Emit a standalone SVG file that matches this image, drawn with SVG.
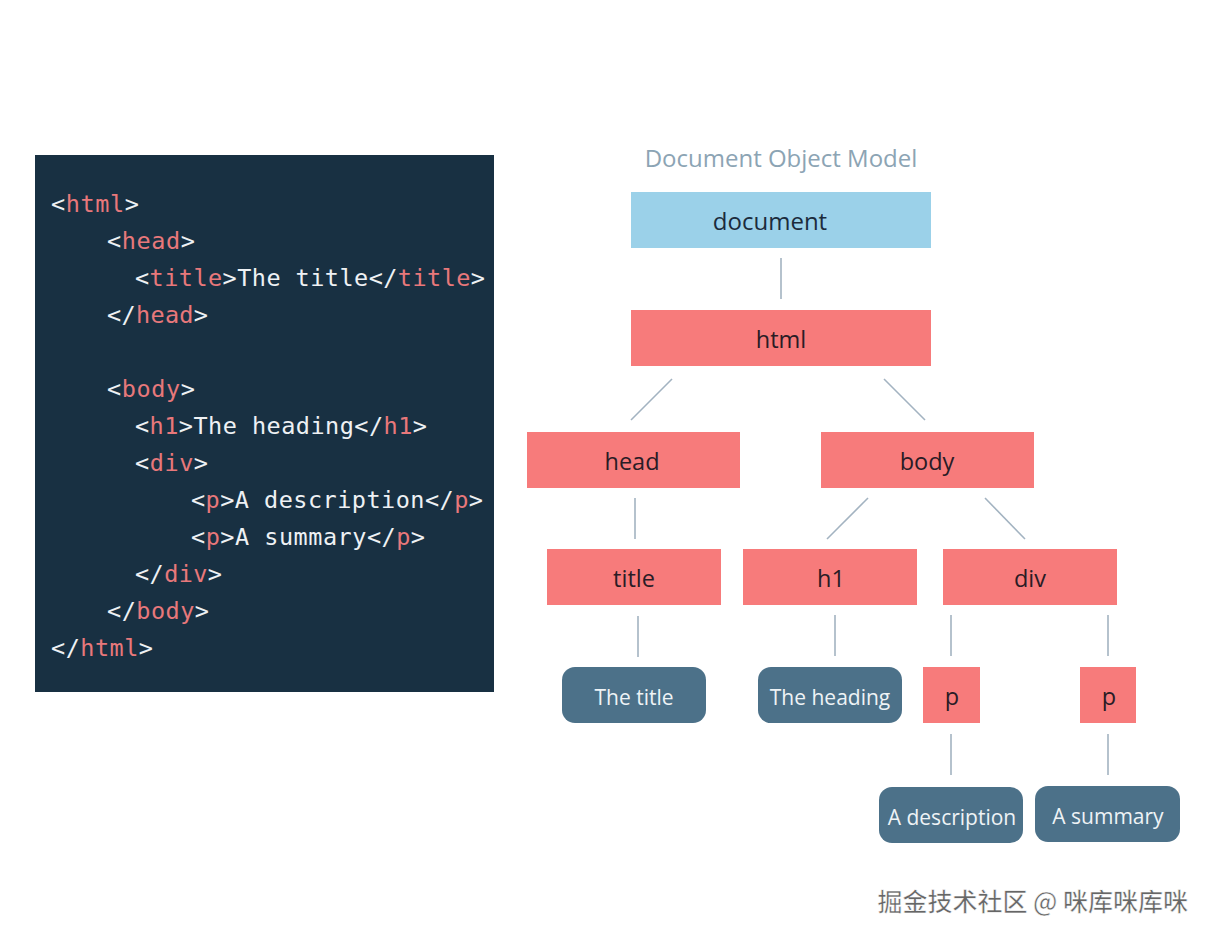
<svg xmlns="http://www.w3.org/2000/svg" width="1214" height="941" viewBox="0 0 1214 941">
<style>
.code{font-family:"DejaVu Sans Mono","Liberation Mono",monospace;font-size:23.5px;fill:#eef1f4}
.tg{fill:#e8787b}
.box{fill:#f77b7b}
.leaf{fill:#4c7189}
.lbl{font-family:"Open Sans","Noto Sans",sans-serif;font-size:23.5px;text-anchor:middle;fill:#2a1c26}
.llbl{font-family:"Open Sans","Noto Sans",sans-serif;font-size:21px;text-anchor:middle;fill:#eef3f6}
.conn line{stroke:#a3b3c1;stroke-width:1.6}
</style>
<rect width="1214" height="941" fill="#ffffff"/>
<g id="code">
<rect x="35" y="155" width="459" height="537" fill="#183042"/>
<text class="code" x="51" y="212" textLength="88" lengthAdjust="spacing">&lt;<tspan class="tg">html</tspan>&gt;</text>
<text class="code" x="107" y="249" textLength="88" lengthAdjust="spacing">&lt;<tspan class="tg">head</tspan>&gt;</text>
<text class="code" x="135" y="286" textLength="350" lengthAdjust="spacing">&lt;<tspan class="tg">title</tspan>&gt;The title&lt;/<tspan class="tg">title</tspan>&gt;</text>
<text class="code" x="107" y="323" textLength="101" lengthAdjust="spacing">&lt;/<tspan class="tg">head</tspan>&gt;</text>
<text class="code" x="107" y="397" textLength="88" lengthAdjust="spacing">&lt;<tspan class="tg">body</tspan>&gt;</text>
<text class="code" x="135" y="434" textLength="292" lengthAdjust="spacing">&lt;<tspan class="tg">h1</tspan>&gt;The heading&lt;/<tspan class="tg">h1</tspan>&gt;</text>
<text class="code" x="135" y="471" textLength="73" lengthAdjust="spacing">&lt;<tspan class="tg">div</tspan>&gt;</text>
<text class="code" x="191" y="508" textLength="292" lengthAdjust="spacing">&lt;<tspan class="tg">p</tspan>&gt;A description&lt;/<tspan class="tg">p</tspan>&gt;</text>
<text class="code" x="191" y="545" textLength="234" lengthAdjust="spacing">&lt;<tspan class="tg">p</tspan>&gt;A summary&lt;/<tspan class="tg">p</tspan>&gt;</text>
<text class="code" x="135" y="582" textLength="87" lengthAdjust="spacing">&lt;/<tspan class="tg">div</tspan>&gt;</text>
<text class="code" x="107" y="619" textLength="102" lengthAdjust="spacing">&lt;/<tspan class="tg">body</tspan>&gt;</text>
<text class="code" x="51" y="656" textLength="102" lengthAdjust="spacing">&lt;/<tspan class="tg">html</tspan>&gt;</text>
</g>
<text x="781" y="167" text-anchor="middle" font-family="'Open Sans','Noto Sans',sans-serif" font-size="24" fill="#8ca4b4">Document Object Model</text>
<g class="conn" id="connectors">
<line x1="781" y1="258" x2="781" y2="299"/>
<line x1="672" y1="379" x2="631" y2="420"/>
<line x1="884" y1="379" x2="925" y2="420"/>
<line x1="635" y1="498" x2="635" y2="539"/>
<line x1="868" y1="498" x2="827" y2="539"/>
<line x1="985" y1="498" x2="1025" y2="539"/>
<line x1="638" y1="616" x2="638" y2="657"/>
<line x1="835" y1="615" x2="835" y2="656"/>
<line x1="951" y1="615" x2="951" y2="656"/>
<line x1="1108" y1="615" x2="1108" y2="656"/>
<line x1="951" y1="734" x2="951" y2="775"/>
<line x1="1108" y1="734" x2="1108" y2="775"/>
</g>
<g id="n-document"><rect x="631" y="192" width="300" height="56" fill="#9bd1e9"/><text class="lbl" x="770" y="230" style="fill:#1b2b3c;font-size:24px">document</text></g>
<g id="n-html"><rect class="box" x="631" y="310" width="300" height="56"/><text class="lbl" x="781" y="348">html</text></g>
<g id="n-head"><rect class="box" x="527" y="432" width="213" height="56"/><text class="lbl" x="632" y="470">head</text></g>
<g id="n-body"><rect class="box" x="821" y="432" width="213" height="56"/><text class="lbl" x="927" y="470">body</text></g>
<g id="n-title"><rect class="box" x="547" y="549" width="174" height="56"/><text class="lbl" x="634" y="587">title</text></g>
<g id="n-h1"><rect class="box" x="743" y="549" width="174" height="56"/><text class="lbl" x="831" y="587">h1</text></g>
<g id="n-div"><rect class="box" x="943" y="549" width="174" height="56"/><text class="lbl" x="1030" y="587">div</text></g>
<g id="n-thetitle"><rect class="leaf" x="562" y="667" width="144" height="56" rx="13"/><text class="llbl" x="634" y="705">The title</text></g>
<g id="n-theheading"><rect class="leaf" x="758" y="667" width="144" height="56" rx="13"/><text class="llbl" x="830" y="705">The heading</text></g>
<g id="n-p1"><rect class="box" x="923" y="667" width="57" height="56"/><text class="lbl" x="952" y="705">p</text></g>
<g id="n-p2"><rect class="box" x="1080" y="667" width="56" height="56"/><text class="lbl" x="1109" y="705">p</text></g>
<g id="n-adesc"><rect class="leaf" x="879" y="787" width="144" height="56" rx="13"/><text class="llbl" x="952" y="825">A description</text></g>
<g id="n-asum"><rect class="leaf" x="1035" y="786" width="145" height="56" rx="13"/><text class="llbl" x="1108" y="824">A summary</text></g>
<text x="1188" y="911" text-anchor="end" font-family="'Noto Sans CJK SC',sans-serif" font-size="25" font-weight="500" fill="#666666" stroke="#ffffff" stroke-width="0.5">掘金技术社区 @ 咪库咪库咪</text>
</svg>
